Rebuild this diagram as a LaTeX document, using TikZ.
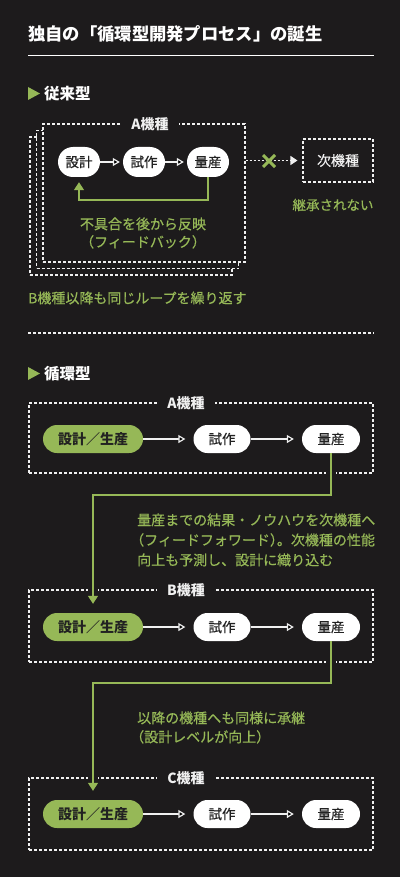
\documentclass[tikz,border=0pt]{standalone}
\usepackage{fontspec}
\setmainfont{Noto Sans CJK JP}
\newfontfamily\mdjp[FakeBold=0.5]{Noto Sans CJK JP}
\usetikzlibrary{arrows.meta}
\definecolor{bgdark}{HTML}{1D1B1C}
\definecolor{leaf}{HTML}{96B857}
\definecolor{ink}{HTML}{222222}
\definecolor{chalk}{HTML}{F0F0F0}

\begin{document}
\begin{tikzpicture}[x=1pt,y=-1pt,
  frame/.style={draw=chalk,line width=1.1pt,dash pattern=on 3pt off 2pt,inner sep=0pt},
  tag/.style={fill=bgdark,text=chalk,inner xsep=10pt,inner ysep=1pt,font=\fontsize{14}{16}\selectfont\bfseries},
  pill/.style={fill=white,text=ink,rounded corners=14pt,minimum height=28pt,inner sep=0pt,font=\fontsize{13.5}{15}\selectfont\mdjp},
  smallpill/.style={pill,minimum width=42pt,minimum height=30pt,rounded corners=15pt},
  greenpill/.style={pill,fill=leaf,font=\fontsize{14}{16}\selectfont\bfseries},
  note/.style={text=leaf,inner sep=0pt,font=\fontsize{14}{20}\selectfont\mdjp},
  heading/.style={anchor=west,text=white,inner sep=0pt,font=\fontsize{15.5}{17}\selectfont\bfseries},
  flow/.style={draw=chalk,line width=1.2pt,-{Triangle[length=7pt,width=8pt]}},
  carry/.style={draw=leaf,line width=1.4pt,-{Triangle[length=8pt,width=10pt]}},
  knock/.style={draw=bgdark,line width=10pt},
]
% background and page size
\fill[bgdark] (0,0) rectangle (400,877);
\useasboundingbox (0,0) rectangle (400,877);

% title
\node[anchor=west,text=white,inner sep=0pt,font=\fontsize{17.3}{19}\selectfont\bfseries] (title) at (28,34) {独自の「循環型開発プロセス」の誕生};
\draw[white,line width=0.9pt] (28,55) -- (374,55);

% ---- conventional loop
\fill[leaf] (28,87) -- (40,93.5) -- (28,100) -- cycle;
\node[heading] (head1) at (44,94) {従来型};

\node[frame,fill=bgdark,minimum width=202pt,minimum height=138pt] (oldC) at (131,206) {};
\node[frame,fill=bgdark,minimum width=202pt,minimum height=138pt] (oldB) at (137.5,199.5) {};
\node[frame,fill=bgdark,minimum width=202pt,minimum height=138pt] (oldA) at (144,193) {};
\node[tag] (oldlab) at (150,124) {A機種};

\node[smallpill] (d1) at (79,162) {設計};
\node[smallpill] (t1) at (144,162) {試作};
\node[smallpill] (m1) at (208,162) {量産};
\draw[flow,shorten >=3pt]
(d1) edge (t1)
(t1) edge (m1);
\coordinate (fb) at (79,200);
\draw[carry,shorten >=5pt] (m1.south) |- (fb) -- (d1.south);
\node[note,align=center,font=\fontsize{14}{18}\selectfont\mdjp] (fbtext) at (143,233) {不具合を後から反映\\\kern-4pt（フィードバック）\kern-4pt};

\node[frame,minimum width=70pt,minimum height=43pt,text=chalk,font=\fontsize{14}{16}\selectfont\mdjp] (nx) at (338,160.5) {次機種};
\draw[draw=chalk,line width=1.1pt,dash pattern=on 2pt off 2pt,-{Triangle[length=7pt,width=9pt]},shorten >=5pt] (oldA.east |- nx.west) -- (nx.west);
\draw[leaf,line width=3pt] (263,155) -- (275,167) (263,167) -- (275,155);
\node[note,font=\fontsize{13.5}{15}\selectfont\mdjp] (nocarry) at (333,205) {継承されない};

\node[note,anchor=west] (repeat) at (28,298) {B機種以降も同じループを繰り返す};

\draw[chalk,line width=1.1pt,dash pattern=on 3pt off 2pt] (28,333) -- (374,333);

% ---- circular type
\fill[leaf] (28,367) -- (40,373.5) -- (28,380) -- cycle;
\node[heading] (head2) at (44,374) {循環型};

\node[frame,minimum width=344pt,minimum height=70pt] (boxA) at (201,438) {};
\node[frame,minimum width=344pt,minimum height=72pt] (boxB) at (201,626) {};
\node[frame,minimum width=344pt,minimum height=72pt] (boxC) at (201,814) {};
\node[tag] (labA) at (186,403) {A機種};
\node[tag] (labB) at (186,590) {B機種};
\node[tag] (labC) at (186,778) {C機種};

\coordinate (k1) at (93,495);
\coordinate (k2) at (93,683);
\draw[knock,shorten >=9pt] (331,453) |- (k1) -- (93,613);
\draw[knock,shorten >=9pt] (331,641) |- (k2) -- (93,800);

\node[greenpill,minimum width=100pt] (gA) at (93,439) {設計／生産};
\node[pill,minimum width=57pt] (tA) at (222,439) {試作};
\node[pill,minimum width=58pt] (qA) at (331,439) {量産};
\node[greenpill,minimum width=100pt] (gB) at (93,627) {設計／生産};
\node[pill,minimum width=57pt] (tB) at (222,627) {試作};
\node[pill,minimum width=58pt] (qB) at (331,627) {量産};
\node[greenpill,minimum width=100pt] (gC) at (93,814) {設計／生産};
\node[pill,minimum width=57pt] (tC) at (222,814) {試作};
\node[pill,minimum width=58pt] (qC) at (331,814) {量産};

\draw[flow,shorten >=8pt]
(gA) edge (tA)
(tA) edge (qA)
(gB) edge (tB)
(tB) edge (qB)
(gC) edge (tC)
(tC) edge (qC);

\draw[carry,shorten >=9pt] (qA.south) |- (k1) -- (gB.north);
\draw[carry,shorten >=9pt] (qB.south) |- (k2) -- (gC.north);

\node[note,anchor=west,align=left] (fftext) at (137,540) {量産までの結果・ノウハウを次機種へ\\\kern-7pt（フィードフォワード）\kern-7pt。次機種の性能\\向上も予測し、設計に織り込む};
\node[note,anchor=west,align=left,font=\fontsize{14}{19}\selectfont\mdjp] (nexttext) at (137,727.5) {以降の機種へも同様に承継\\\kern-7pt（設計レベルが向上）};
\end{tikzpicture}
\end{document}
